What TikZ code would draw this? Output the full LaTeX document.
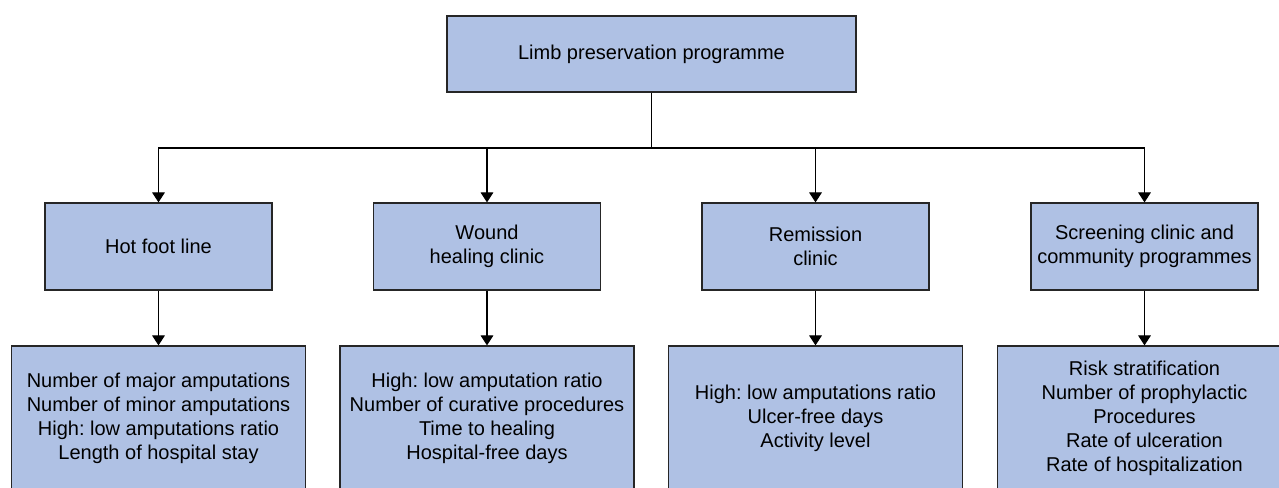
\documentclass[tikz,border=0pt]{standalone}
\usepackage{fontspec}
\setmainfont{Liberation Sans}
\usetikzlibrary{arrows.meta}
\definecolor{boxblue}{RGB}{175,193,228}
\frenchspacing
\tikzset{
  box/.style={draw=black!85, fill=boxblue, line width=0.9pt, inner sep=0pt, align=center,
    font=\fontsize{15}{18}\selectfont},
  topbox/.style={box, minimum width=306.75pt, minimum height=57pt},
  midbox/.style={box, minimum width=170.25pt, minimum height=65.25pt},
  lowbox/.style={box, minimum width=220.5pt, minimum height=108pt},
  link/.style={line width=0.8pt, -{Triangle[width=9.5pt,length=7.5pt]}}
}
\begin{document}
\begin{tikzpicture}[x=0.75pt,y=-0.75pt]
                    \useasboundingbox (0,0) rectangle (1279,487);
                    \clip (0,0) rectangle (1279,487);
                    \node[topbox] (top) at (651.5, 54) {Limb preservation programme};
                    \node[midbox] (hot) at (158.5, 246.5) {Hot foot line};
                    \node[midbox] (wound) at (487, 246.5) {Wound\\healing clinic};
                    \node[midbox] (remis) at (815.5, 246.5) {Remission\\clinic};
                    \node[midbox] (screen) at (1144.5, 246.5) {Screening clinic and\\community programmes};
                    \node[lowbox] (hotm) at (158.5, 418) {Number of major amputations\\Number of minor amputations\\High: low amputations ratio\\Length of hospital stay};
                    \node[lowbox] (woundm) at (487, 418) {High: low amputation ratio\\Number of curative procedures\\Time to healing\\Hospital-free days};
                    \node[lowbox] (remism) at (815.5, 418) {High: low amputations ratio\\Ulcer-free days\\Activity level};
                    \node[lowbox] (screenm) at (1144.5, 418) {Risk stratification\\Number of prophylactic\\Procedures\\Rate of ulceration\\Rate of hospitalization};
                    \coordinate (fork) at (651.5, 148);
                    \draw[line width=0.8pt] (top) -- (fork);
                    \draw[link] (fork) -| (hot);
                    \draw[link] (fork) -| (wound);
                    \draw[link] (fork) -| (remis);
                    \draw[link] (fork) -| (screen);
                    \draw[link] (hot) -- (hotm);
                    \draw[link] (wound) -- (woundm);
                    \draw[link] (remis) -- (remism);
                    \draw[link] (screen) -- (screenm);
                \end{tikzpicture}
\end{document}
